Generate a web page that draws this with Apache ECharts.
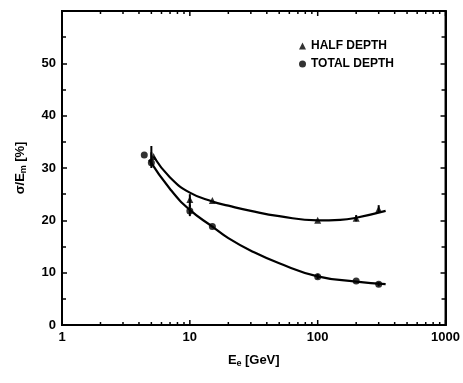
<!DOCTYPE html>
<html>
<head>
	<meta charset="UTF-8">
	<title></title>
	<script src="https://cdn.jsdelivr.net/npm/echarts@6/dist/echarts.min.js"></script>
	<style>
		html, body{
			width: 100%;
			height: 100%;
			padding: 0;
			margin: 0;
			background: #fff;
		}
		#main{
			width: 463px;
			height: 383px;
		}
	</style>
</head>
<body>
	<div id="main"></div>
</body>
<script>
	// 测量点 [E, σ/E]
	let halfPoints = [[5.2, 32.2], [10, 24], [15, 23.8], [100, 20], [200, 20.4], [300, 22.1]];
	let totalPoints = [[4.4, 32.5], [5, 31], [10, 21.8], [15, 18.8], [100, 9.2], [200, 8.4], [300, 7.8]];
	// 误差棒 [E, 下限, 上限]
	let halfErrors = [[5, 30.5, 34.2], [10, 22.5, 25], [200, 19.8, 21], [300, 21.4, 22.9]];
	let totalErrors = [[5, 30, 33], [10, 20.8, 23], [100, 8.8, 9.8], [300, 7.4, 8.2]];
	// 拟合曲线
	let halfCurve = [[5.2, 32.2], [7, 28.2], [10, 25.3], [15, 23.6], [20, 22.8], [30, 21.8], [50, 20.8], [100, 20], [150, 20.1], [200, 20.5], [340, 21.8]];
	let totalCurve = [[4.8, 31.6], [7, 26], [10, 22], [15, 18.8], [20, 16.6], [30, 14.2], [50, 11.8], [100, 9.3], [200, 8.3], [340, 7.8]];
	// x轴刻度
	let majorTicksX = [1, 10, 100, 1000];
	let minorTicksX = [2, 3, 4, 5, 6, 7, 8, 9, 20, 30, 40, 50, 60, 70, 80, 90, 200, 300, 400, 500, 600, 700, 800, 900];

	let myChart = echarts.init(document.getElementById('main'));
	let font = 'Liberation Sans';

	function errorItem(params, api){
		let top = api.coord([api.value(0), api.value(2)]);
		let bot = api.coord([api.value(0), api.value(1)]);
		return {
			type: 'line',
			shape: {x1: top[0], y1: top[1], x2: bot[0], y2: bot[1]},
			style: {stroke: '#000', lineWidth: 2}
		};
	}

	// 上下两边的刻度
	function tickItem(params, api){
		let len = api.value(1);
		let b = api.coord([api.value(0), 0]);
		let t = api.coord([api.value(0), 60]);
		return {
			type: 'group',
			children: [
				{type: 'line', shape: {x1: b[0], y1: b[1], x2: b[0], y2: b[1] - len}, style: {stroke: '#000', lineWidth: 1.5}},
				{type: 'line', shape: {x1: t[0], y1: t[1], x2: t[0], y2: t[1] + len}, style: {stroke: '#000', lineWidth: 1.5}}
			]
		};
	}

	let axisLine = {show: true, lineStyle: {color: '#000', width: 2}};

	myChart.setOption({
		animation: false,
		grid: {left: 62, right: 16, top: 11, bottom: 58, show: true, borderColor: '#000', borderWidth: 2},
		legend: {
			orient: 'vertical',
			left: 294,
			top: 35,
			itemGap: 6,
			itemWidth: 7,
			itemHeight: 7,
			data: [{name: 'HALF DEPTH', icon: 'triangle'}, {name: 'TOTAL DEPTH', icon: 'circle'}],
			textStyle: {fontFamily: font, fontWeight: 'bold', fontSize: 12, color: '#000'}
		},
		xAxis: {
			type: 'log',
			min: 1,
			max: 1000,
			logBase: 10,
			axisLine: axisLine,
			axisTick: {show: false},
			splitLine: {show: false},
			axisLabel: {
				fontFamily: font, fontWeight: 'bold', fontSize: 13, color: '#000', margin: 6, showMaxLabel: true,
				formatter: function(v){ return String(Math.round(v)); }
			},
			name: '{b|E}{s|e} {b|[GeV]}',
			nameLocation: 'middle',
			nameGap: 28,
			nameTextStyle: {
				rich: {
					b: {fontFamily: font, fontWeight: 'bold', fontSize: 13, color: '#000'},
					s: {fontFamily: font, fontWeight: 'bold', fontSize: 9, color: '#000', verticalAlign: 'bottom', padding: [6, 0, 0, 0]}
				}
			}
		},
		yAxis: [{
			type: 'value',
			min: 0,
			max: 60,
			interval: 10,
			axisLine: axisLine,
			axisTick: {inside: true, length: 5, lineStyle: {color: '#000', width: 1.5}},
			minorTick: {show: true, splitNumber: 2, length: 4, lineStyle: {color: '#000', width: 1.5}},
			splitLine: {show: false},
			axisLabel: {
				fontFamily: font, fontWeight: 'bold', fontSize: 13, color: '#000', margin: 6,
				formatter: function(v){ return v == 60 ? '' : v; }
			},
			name: '{b|σ/E}{s|m} {b|[%]}',
			nameLocation: 'middle',
			nameGap: 34,
			nameRotate: 90,
			nameTextStyle: {
				rich: {
					b: {fontFamily: font, fontWeight: 'bold', fontSize: 13, color: '#000'},
					s: {fontFamily: font, fontWeight: 'bold', fontSize: 9, color: '#000', verticalAlign: 'bottom', padding: [6, 0, 0, 0]}
				}
			}
		}, {
			type: 'value',
			min: 0,
			max: 60,
			interval: 10,
			position: 'right',
			axisLine: axisLine,
			axisTick: {show: true, inside: true, length: 5, lineStyle: {color: '#000', width: 1.5}},
			minorTick: {show: true, splitNumber: 2, length: 4, lineStyle: {color: '#000', width: 1.5}},
			axisLabel: {show: false},
			splitLine: {show: false}
		}],
		series: [{
			name: 'half fit',
			type: 'line',
			data: halfCurve,
			smooth: true,
			showSymbol: false,
			lineStyle: {color: '#000', width: 2.2}
		}, {
			name: 'total fit',
			type: 'line',
			data: totalCurve,
			smooth: true,
			showSymbol: false,
			lineStyle: {color: '#000', width: 2.2}
		}, {
			name: 'half err',
			type: 'custom',
			data: halfErrors,
			renderItem: errorItem
		}, {
			name: 'total err',
			type: 'custom',
			data: totalErrors,
			renderItem: errorItem
		}, {
			name: 'ticks',
			type: 'custom',
			data: majorTicksX.map(v => [v, 5]).concat(minorTicksX.map(v => [v, 3])),
			renderItem: tickItem
		}, {
			name: 'HALF DEPTH',
			type: 'scatter',
			data: halfPoints,
			symbol: 'triangle',
			symbolSize: 7,
			itemStyle: {color: '#000'}
		}, {
			name: 'TOTAL DEPTH',
			type: 'scatter',
			data: totalPoints,
			symbol: 'circle',
			symbolSize: 7,
			itemStyle: {color: '#000'}
		}]
	});
</script>
</html>
